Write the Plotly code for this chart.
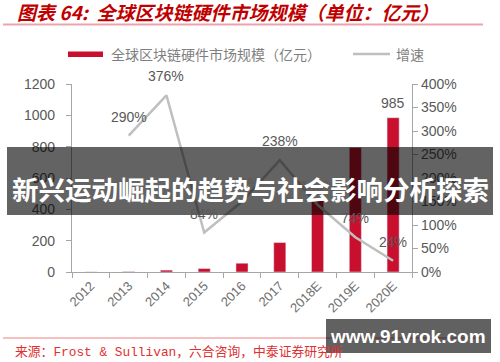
import plotly.graph_objects as go

years = ["2012", "2013", "2014", "2015", "2016", "2017", "2018E", "2019E", "2020E"]
market_size = [0.7, 2.6, 12, 22, 56, 188, 456, 794, 985]
growth_years = ["2013", "2014", "2015", "2016", "2017", "2018E", "2019E", "2020E"]
growth = [2.90, 3.76, 0.84, 1.50, 2.38, 1.43, 0.74, 0.24]
growth_labels = ["290%", "376%", "84%", "150%", "238%", "143%", "74%", "24%"]
bar_label_year = "2020E"
bar_label_text = "985"
left_ticks = [0, 200, 400, 600, 800, 1000, 1200]
right_ticks = [0, 0.5, 1.0, 1.5, 2.0, 2.5, 3.0, 3.5, 4.0]

W, H = 500, 362
L, R, T, B = 72, 412, 84, 272


def px(x):
    return (x - L) / (R - L)


def py(y):
    return (B - y) / (B - T)


RED = "#c8102e"
GRAY_TXT = "#595959"
AXIS = "#a6a6a6"
FONT = "Liberation Sans, Arial, sans-serif"
CJK = "Noto Sans CJK SC, sans-serif"

fig = go.Figure()
fig.add_trace(go.Bar(x=years, y=market_size, marker_color=RED, width=0.32,
                     name="全球区块链硬件市场规模（亿元）", showlegend=False))
fig.add_trace(go.Scatter(x=growth_years, y=growth, mode="lines", yaxis="y2",
                         line=dict(color="#bfbfbf", width=2.5),
                         name="增速", showlegend=False))

annotations = []
for xv, yv, t in zip(growth_years, growth, growth_labels):
    annotations.append(dict(x=years.index(xv), y=yv, xref="x", yref="y2", text=t,
                            showarrow=False, yanchor="bottom", yshift=9,
                            font=dict(family=FONT, size=14, color=GRAY_TXT)))
annotations.append(dict(x=years.index(bar_label_year),
                        y=market_size[years.index(bar_label_year)],
                        xref="x", yref="y", text=bar_label_text, showarrow=False,
                        yanchor="bottom", yshift=5,
                        font=dict(family=FONT, size=14, color=GRAY_TXT)))

# title
annotations.append(dict(x=px(15), y=py(11), xref="paper", yref="paper",
                        text="<b><i>图表 64:  全球区块链硬件市场规模（单位：亿元）</i></b>",
                        showarrow=False, xanchor="left", yanchor="middle",
                        font=dict(family=CJK, size=19, color="#c00000")))
# legend texts
annotations.append(dict(x=px(109), y=py(54), xref="paper", yref="paper",
                        text="全球区块链硬件市场规模（亿元）", showarrow=False,
                        xanchor="left", yanchor="middle",
                        font=dict(family=CJK, size=14, color="#7f7f7f")))
annotations.append(dict(x=px(394), y=py(54), xref="paper", yref="paper",
                        text="增速", showarrow=False, xanchor="left", yanchor="middle",
                        font=dict(family=CJK, size=14, color="#7f7f7f")))
# source
annotations.append(dict(x=px(13), y=py(352), xref="paper", yref="paper",
                        text="来源：Frost & Sullivan，六合咨询，中泰证券研究所", showarrow=False,
                        xanchor="left", yanchor="middle",
                        font=dict(family="Liberation Mono, Noto Sans CJK SC, monospace", size=12.8,
                                  color="#e03030")))
# overlay banner text
annotations.append(dict(x=px(250), y=py(188), xref="paper", yref="paper",
                        text="<b>新兴运动崛起的趋势与社会影响分析探索</b>", showarrow=False,
                        xanchor="center", yanchor="middle",
                        font=dict(family=CJK, size=26.5, color="white")))
# watermark text
annotations.append(dict(x=px(408), y=py(336), xref="paper", yref="paper",
                        text="<b>www.91vrok.com</b>", showarrow=False,
                        xanchor="center", yanchor="middle",
                        font=dict(family=FONT, size=19, color="white")))

shapes = [
    dict(type="line", xref="paper", yref="paper", x0=px(3), x1=px(483), y0=py(24.5), y1=py(24.5),
         line=dict(color="#eba4ac", width=2), layer="below"),
    dict(type="line", xref="paper", yref="paper", x0=px(3), x1=px(483), y0=py(338), y1=py(338),
         line=dict(color="#f08080", width=1.2), layer="below"),
    dict(type="rect", xref="paper", yref="paper", x0=px(68), x1=px(103), y0=py(57), y1=py(51.5),
         fillcolor=RED, line=dict(width=0)),
    dict(type="line", xref="paper", yref="paper", x0=px(353), x1=px(390), y0=py(54), y1=py(54),
         line=dict(color="#bfbfbf", width=2.5)),
    dict(type="rect", xref="paper", yref="paper", x0=px(7), x1=px(493), y0=py(147), y1=py(215),
         fillcolor="rgba(0,0,0,0.61)", line=dict(width=0), layer="above"),
    dict(type="rect", xref="paper", yref="paper", x0=px(326), x1=px(491), y0=py(319), y1=py(353),
         fillcolor="rgba(0,0,0,0.62)", line=dict(width=0), layer="above"),
]

fig.update_layout(
    width=W, height=H, autosize=False,
    margin=dict(l=L, r=W - R, t=T, b=H - B, pad=0),
    paper_bgcolor="white", plot_bgcolor="white",
    showlegend=False, bargap=0.6,
    font=dict(family=FONT, color=GRAY_TXT),
    xaxis=dict(type="category", showgrid=False, showline=True, linecolor=AXIS, linewidth=1.2,
               ticks="outside", tickson="boundaries", ticklen=5, tickcolor=AXIS,
               tickangle=-45, tickfont=dict(size=13, color="#6f6f6f", family=FONT),
               range=[-0.5, 8.5]),
    yaxis=dict(range=[0, 1200], tickvals=left_ticks, showgrid=False, zeroline=False,
               showline=True, linecolor=AXIS, linewidth=1.2, ticks="outside", ticklen=5,
               tickcolor=AXIS, tickfont=dict(size=14, color=GRAY_TXT, family=FONT),
               ticklabelstandoff=8),
    yaxis2=dict(range=[0, 4], tickvals=right_ticks, tickformat=".0%", overlaying="y",
                side="right", showgrid=False, zeroline=False, showline=True, linecolor=AXIS,
                linewidth=1.2, ticks="outside", ticklen=5, tickcolor=AXIS,
                tickfont=dict(size=14, color=GRAY_TXT, family=FONT)),
    annotations=annotations, shapes=shapes,
)

fig.write_html("out.html")
